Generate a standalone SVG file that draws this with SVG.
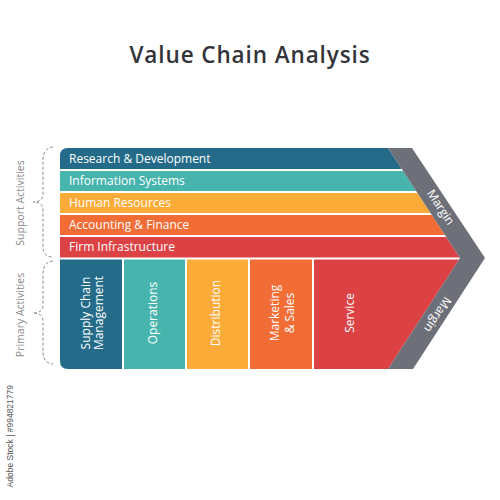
<svg xmlns="http://www.w3.org/2000/svg" width="500" height="500" viewBox="0 0 500 500">
<style>
.title{font-family:"Open Sans","Noto Sans",sans-serif;font-weight:600;font-size:22.5px;letter-spacing:0.9px;fill:#33343a}
.bt{font-family:"Open Sans","Noto Sans",sans-serif;font-weight:500;font-size:12px;fill:#fff}
.ct{font-family:"Open Sans","Noto Sans",sans-serif;font-weight:500;font-size:12px;fill:#fff;text-anchor:middle;dominant-baseline:central}
.side{font-family:"Open Sans","Noto Sans",sans-serif;font-weight:400;font-size:10.5px;fill:#8a8a8a;text-anchor:middle;dominant-baseline:central}
.brace{fill:none;stroke:#8a8a8a;stroke-width:1;stroke-dasharray:3 2}
.sep{stroke:#fff;stroke-width:2}
.wm{font-family:"Liberation Sans",sans-serif;font-size:8.5px;fill:#555}
</style>
<text class="title" x="250" y="63" text-anchor="middle">Value Chain Analysis</text>

<g id="support-label">
<path class="brace" d="M53,147 Q43,148 43,160 L43,194 Q43,202 33,202 Q43,202 43,210 L43,246 Q43,257 53,257"/>
<text class="side" transform="translate(20,203) rotate(-90)">Support Activities</text>
</g>
<g id="primary-label">
<path class="brace" d="M53,261 Q43,262 43,274 L43,305 Q43,313 33,313 Q43,313 43,321 L43,352 Q43,363 53,364"/>
<text class="side" transform="translate(20,315) rotate(-90)">Primary Activities</text>
</g>

<g id="research">
<path d="M68,148 L388,148 L402.4,170 L60,170 L60,156 Q60,148 68,148 Z" fill="#236b88"/>
<text class="bt" x="69" y="163">Research &amp; Development</text>
</g>
<g id="info">
<path d="M60,170 L402.4,170 L416.8,192 L60,192 Z" fill="#47b4ae"/>
<text class="bt" x="69" y="185">Information Systems</text>
</g>
<g id="hr">
<path d="M60,192 L416.8,192 L431.2,214 L60,214 Z" fill="#fbab37"/>
<text class="bt" x="69" y="207">Human Resources</text>
</g>
<g id="accounting">
<path d="M60,214 L431.2,214 L445.6,236 L60,236 Z" fill="#f26c35"/>
<text class="bt" x="69" y="229">Accounting &amp; Finance</text>
</g>
<g id="firm">
<path d="M60,236 L445.6,236 L460,258 L60,258 Z" fill="#dc4244"/>
<text class="bt" x="69" y="251">Firm Infrastructure</text>
</g>

<g id="scm">
<path d="M60,259 L123,259 L123,369 L68,369 Q60,369 60,361 Z" fill="#236b88"/>
<text class="ct" transform="translate(85,313) rotate(-90)">Supply Chain</text>
<text class="ct" transform="translate(98,313) rotate(-90)">Management</text>
</g>
<g id="operations">
<rect x="123" y="259" width="63" height="110" fill="#47b4ae"/>
<text class="ct" transform="translate(152,313) rotate(-90)">Operations</text>
</g>
<g id="distribution">
<rect x="186" y="259" width="63" height="110" fill="#fbab37"/>
<text class="ct" transform="translate(215,313) rotate(-90)">Distribution</text>
</g>
<g id="marketing">
<rect x="249" y="259" width="64" height="110" fill="#f26c35"/>
<text class="ct" transform="translate(274,313) rotate(-90)">Marketing</text>
<text class="ct" transform="translate(289,313) rotate(-90)">&amp; Sales</text>
</g>
<g id="service">
<path d="M313,259 L459.4,259 L388,369 L313,369 Z" fill="#dc4244"/>
<text class="ct" transform="translate(349,313) rotate(-90)">Service</text>
</g>

<g id="connectors">
<line class="sep" x1="60" y1="170" x2="404" y2="170"/>
<line class="sep" x1="60" y1="192" x2="418" y2="192"/>
<line class="sep" x1="60" y1="214" x2="432" y2="214"/>
<line class="sep" x1="60" y1="236" x2="447" y2="236"/>
<line class="sep" x1="60" y1="258.5" x2="461" y2="258.5"/>
<line class="sep" x1="123" y1="259" x2="123" y2="369"/>
<line class="sep" x1="186" y1="259" x2="186" y2="369"/>
<line class="sep" x1="249" y1="259" x2="249" y2="369"/>
<line class="sep" x1="313" y1="259" x2="313" y2="369"/>
</g>

<g id="margin">
<path d="M388,148 L412,148 L485,258 L413,369 L388,369 L460,258 Z" fill="#6d7079"/>
<text class="ct" transform="translate(441,207) rotate(57)">Margin</text>
<text class="ct" transform="translate(438,315) rotate(123)">Margin</text>
</g>

<text class="wm" transform="translate(13,385) rotate(-90)" text-anchor="end">Adobe Stock | #994821779</text>
</svg>
